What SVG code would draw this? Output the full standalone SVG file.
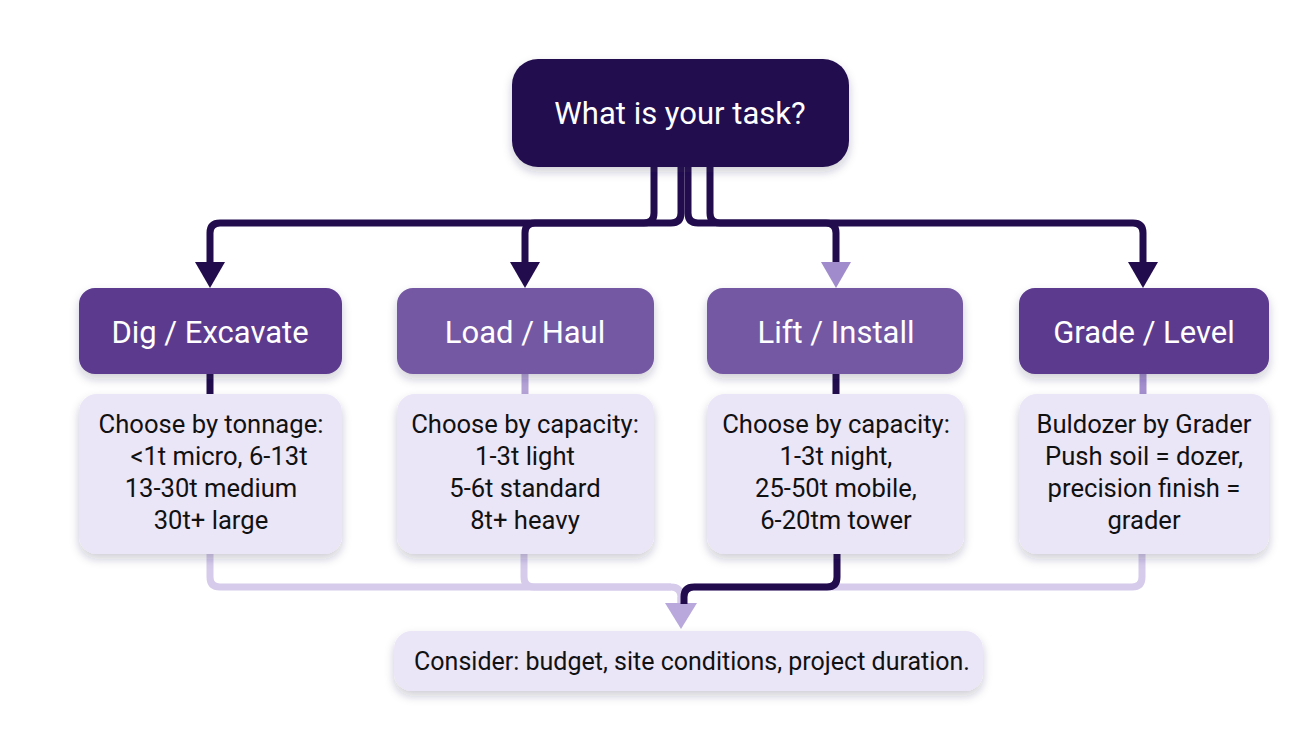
<svg xmlns="http://www.w3.org/2000/svg" width="1312" height="736" viewBox="0 0 1312 736">
<style>
.bg{fill:#ffffff}
.top{fill:#24104f}
.hdA{fill:#5b3a8e}
.hdB{fill:#7558a3}
.det{fill:#ebe5f8}
.ttl{font-family:Roboto,"Liberation Sans",sans-serif;fill:#ffffff;text-anchor:middle}
.txt{font-family:Roboto,"Liberation Sans",sans-serif;fill:#111111;text-anchor:middle;font-size:25.6px}
.sm{font-size:25px}
.dk{fill:none;stroke:#220c4e;stroke-width:7}
.lt{fill:none;stroke:#d6cbeb;stroke-width:7}
.md{fill:none;stroke:#b5a3d8;stroke-width:7}
.md2{fill:none;stroke:#a58fcf;stroke-width:7}
</style>
<defs>
<filter id="sh" x="-20%" y="-20%" width="140%" height="150%">
<feDropShadow dx="0" dy="5" stdDeviation="5" flood-color="#2a1a50" flood-opacity="0.22"/>
</filter>
<marker id="aDk" viewBox="0 -15 26 30" markerWidth="26" markerHeight="30" refX="0" refY="0" markerUnits="userSpaceOnUse" orient="auto">
<path d="M0,-15 L26,0 L0,15 Z" fill="#220c4e"/>
</marker>
<marker id="aLt" viewBox="0 -15 26 30" markerWidth="26" markerHeight="30" refX="0" refY="0" markerUnits="userSpaceOnUse" orient="auto">
<path d="M0,-15 L26,0 L0,15 Z" fill="#a08ccc"/>
</marker>
<marker id="aLt2" viewBox="0 -16 26 32" markerWidth="26" markerHeight="32" refX="0" refY="0" markerUnits="userSpaceOnUse" orient="auto">
<path d="M0,-16 L26,0 L0,16 Z" fill="#b9a8dc"/>
</marker>
</defs>
<rect class="bg" x="0" y="0" width="1312" height="736"/>

<g id="connectors">
<path class="dk" d="M654,166 V213 Q654,223 644,223 H220 Q210,223 210,233 V262" marker-end="url(#aDk)"/>
<path class="dk" d="M681,166 V213 Q681,223 671,223 H535 Q525,223 525,233 V262" marker-end="url(#aDk)"/>
<path class="dk" d="M688,166 V213 Q688,223 698,223 H826 Q836,223 836,233 V262" marker-end="url(#aLt)"/>
<path class="dk" d="M710,166 V213 Q710,223 720,223 H1133 Q1143,223 1143,233 V262" marker-end="url(#aDk)"/>
<path class="dk" d="M210,374 V394"/>
<path class="md" d="M525,374 V394"/>
<path class="dk" d="M836,374 V394"/>
<path class="md2" d="M1143,374 V394"/>
<path class="lt" d="M210,554 V577 Q210,587 220,587 H671 Q681,587 681,597 V603"/>
<path class="lt" d="M524,554 V577 Q524,587 534,587 H671"/>
<path class="lt" d="M1142,554 V577 Q1142,587 1132,587 H694"/>
<path class="lt" d="M681,597 V603" marker-end="url(#aLt2)"/>
<path class="dk" d="M837,554 V577 Q837,587 827,587 H694 Q684,587 684,597 V604"/>
</g>

<g id="node-task">
<rect class="top" x="512" y="59" width="337" height="108" rx="26" filter="url(#sh)"/>
<text class="ttl" x="680" y="124" font-size="31">What is your task?</text>
</g>

<g id="node-dig">
<rect class="hdA" x="79" y="288" width="263" height="86" rx="16" filter="url(#sh)"/>
<text class="ttl" x="210" y="343" font-size="31">Dig / Excavate</text>
</g>
<g id="node-load">
<rect class="hdB" x="397" y="288" width="257" height="86" rx="16" filter="url(#sh)"/>
<text class="ttl" x="525" y="343" font-size="31">Load / Haul</text>
</g>
<g id="node-lift">
<rect class="hdB" x="707" y="288" width="256" height="86" rx="16" filter="url(#sh)"/>
<text class="ttl" x="836" y="343" font-size="31">Lift / Install</text>
</g>
<g id="node-grade">
<rect class="hdA" x="1019" y="288" width="250" height="86" rx="16" filter="url(#sh)"/>
<text class="ttl" x="1144" y="343" font-size="31">Grade / Level</text>
</g>

<g id="node-dig-detail">
<rect class="det" x="79" y="394" width="263" height="160" rx="18" filter="url(#sh)"/>
<text class="txt" x="211" y="433">Choose by tonnage:</text>
<text class="txt" x="219" y="465">&lt;1t micro, 6-13t</text>
<text class="txt" x="211" y="497">13-30t medium</text>
<text class="txt" x="211" y="529">30t+ large</text>
</g>
<g id="node-load-detail">
<rect class="det" x="397" y="394" width="257" height="160" rx="18" filter="url(#sh)"/>
<text class="txt" x="525" y="433">Choose by capacity:</text>
<text class="txt" x="525" y="465">1-3t light</text>
<text class="txt" x="525" y="497">5-6t standard</text>
<text class="txt" x="525" y="529">8t+ heavy</text>
</g>
<g id="node-lift-detail">
<rect class="det" x="707" y="394" width="257" height="160" rx="18" filter="url(#sh)"/>
<text class="txt" x="836" y="433">Choose by capacity:</text>
<text class="txt" x="836" y="465">1-3t night,</text>
<text class="txt" x="836" y="497">25-50t mobile,</text>
<text class="txt" x="836" y="529">6-20tm tower</text>
</g>
<g id="node-grade-detail">
<rect class="det" x="1019" y="394" width="250" height="160" rx="18" filter="url(#sh)"/>
<text class="txt" x="1144" y="433">Buldozer by Grader</text>
<text class="txt" x="1144" y="465">Push soil = dozer,</text>
<text class="txt" x="1144" y="497">precision finish =</text>
<text class="txt" x="1144" y="529">grader</text>
</g>

<g id="node-consider">
<rect class="det" x="394" y="631" width="589" height="60" rx="18" filter="url(#sh)"/>
<text class="txt sm" x="692" y="670">Consider: budget, site conditions, project duration.</text>
</g>
</svg>
